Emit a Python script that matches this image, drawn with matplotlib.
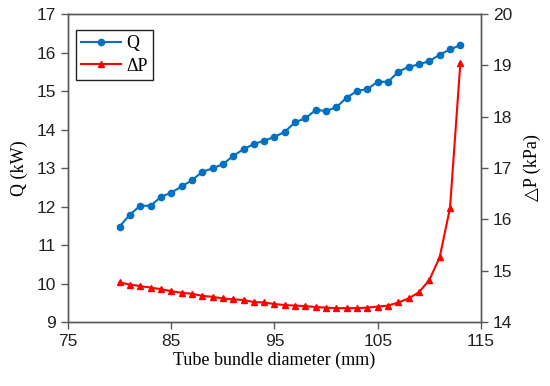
import matplotlib.pyplot as plt
import numpy as np

# tube bundle diameter (mm)
diameter = list(range(80, 114))

# heat duty Q (kW)
q_kw = [11.48, 11.79, 12.02, 12.02, 12.25, 12.36, 12.52, 12.68, 12.90, 12.99,
        13.10, 13.31, 13.49, 13.62, 13.71, 13.81, 13.94, 14.19, 14.29, 14.51,
        14.48, 14.58, 14.83, 15.00, 15.05, 15.24, 15.24, 15.50, 15.63, 15.69,
        15.78, 15.94, 16.08, 16.19]

# pressure drop (kPa)
dp_kpa = [14.77, 14.73, 14.70, 14.67, 14.64, 14.60, 14.57, 14.55, 14.51, 14.49,
          14.46, 14.44, 14.43, 14.39, 14.38, 14.35, 14.33, 14.32, 14.31, 14.29,
          14.28, 14.27, 14.27, 14.27, 14.28, 14.30, 14.32, 14.38, 14.46, 14.58,
          14.82, 15.26, 16.22, 19.04]

xticks = [75, 85, 95, 105, 115]
q_ticks = list(range(9, 18))
dp_ticks = list(range(14, 21))

serif = ['Liberation Serif', 'DejaVu Sans']
tick_font = 'Liberation Sans'
spine_col = '#595959'

fig = plt.figure(figsize=(5.5, 3.86), dpi=100)
ax = fig.add_axes([0.1236, 0.1658, 0.7509, 0.7979])
ax2 = ax.twinx()

l1, = ax.plot(diameter, q_kw, color='#0070C0', lw=1.5, marker='o', ms=4.5, label='Q')
l2, = ax2.plot(diameter, dp_kpa, color='#FF0000', lw=1.5, marker='^', ms=4.5, label='ΔP')

ax.set_xlim(75, 115)
ax.set_ylim(9, 17)
ax2.set_ylim(14, 20)
ax.set_xticks(xticks)
ax.set_yticks(q_ticks)
ax2.set_yticks(dp_ticks)

for a in (ax, ax2):
    for s in a.spines.values():
        s.set_color(spine_col)
        s.set_linewidth(1.0)
    a.tick_params(direction='out', length=5, width=1.0, color=spine_col,
                  labelsize=12.5, labelcolor='#222222')
    for lab in a.get_xticklabels() + a.get_yticklabels():
        lab.set_fontfamily(tick_font)

ax.set_xlabel('Tube bundle diameter (mm)', family=serif, fontsize=13, labelpad=2)
ax.set_ylabel('Q (kW)', family=serif, fontsize=13, labelpad=6)
ax2.set_ylabel('△P (kPa)', family=serif, fontsize=13, labelpad=8)

leg = ax.legend(handles=[l1, l2], loc='upper left', bbox_to_anchor=(0.01, 0.96),
                prop={'family': serif, 'size': 13}, fancybox=False, framealpha=1,
                edgecolor='#222222', handlelength=2.2, handletextpad=0.3,
                borderpad=0.3, labelspacing=0.3, borderaxespad=0.2)
leg.get_frame().set_linewidth(1.0)

fig.savefig('out.png', dpi=100)
